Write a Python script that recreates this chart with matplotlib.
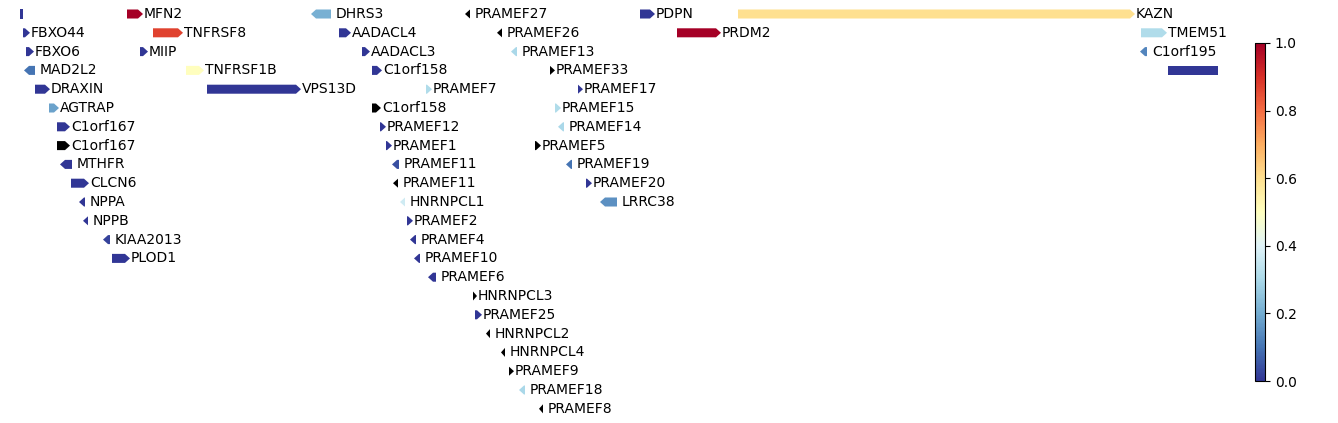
import numpy as np
import matplotlib
matplotlib.use("Agg")
import matplotlib.pyplot as plt
from matplotlib.patches import Polygon

# gene track data (positions in track units, row = stacking lane)
NAMES = ["", "MFN2", "DHRS3", "PRAMEF27", "PDPN", "KAZN",
         "FBXO44", "TNFRSF8", "AADACL4", "PRAMEF26", "PRDM2", "TMEM51",
         "FBXO6", "MIIP", "AADACL3", "PRAMEF13", "C1orf195",
         "MAD2L2", "TNFRSF1B", "C1orf158", "PRAMEF33", "",
         "DRAXIN", "VPS13D", "PRAMEF7", "PRAMEF17",
         "AGTRAP", "C1orf158", "PRAMEF15",
         "C1orf167", "PRAMEF12", "PRAMEF14",
         "C1orf167", "PRAMEF1", "PRAMEF5",
         "MTHFR", "PRAMEF11", "PRAMEF19",
         "CLCN6", "PRAMEF11", "PRAMEF20",
         "NPPA", "HNRNPCL1", "LRRC38",
         "NPPB", "PRAMEF2",
         "KIAA2013", "PRAMEF4",
         "PLOD1", "PRAMEF10",
         "PRAMEF6", "HNRNPCL3", "PRAMEF25", "HNRNPCL2", "HNRNPCL4",
         "PRAMEF9", "PRAMEF18", "PRAMEF8"]
STARTS = [20, 127, 311, 465, 640, 738,
          23, 153, 339, 497, 677, 1141,
          26, 140, 362, 511, 1140,
          24, 186, 372, 550, 1168,
          35, 207, 426, 578,
          49, 372, 555,
          57, 380, 558,
          57, 386, 535,
          60, 392, 566,
          71, 393, 586,
          79, 400, 600,
          83, 407,
          103, 410,
          112, 414,
          428, 473, 475, 486, 501,
          509, 519, 539]
ENDS = [23, 143, 331, 470, 655, 1135,
        30, 183, 351, 502, 721, 1167,
        34, 148, 370, 517, 1147,
        35, 204, 382, 555, 1218,
        50, 301, 432, 583,
        59, 381, 561,
        70, 386, 564,
        70, 392, 541,
        72, 399, 572,
        89, 398, 592,
        85, 405, 617,
        88, 413,
        110, 416,
        130, 420,
        436, 477, 482, 490, 505,
        514, 525, 543]
STRANDS = [0, 1, -1, -1, 1, 1,
           1, 1, 1, -1, 1, 1,
           1, 1, 1, -1, -1,
           -1, 1, 1, 1, 0,
           1, 1, 1, 1,
           1, 1, 1,
           1, 1, -1,
           1, 1, 1,
           -1, -1, -1,
           1, -1, 1,
           -1, -1, -1,
           -1, 1,
           -1, -1,
           1, -1,
           -1, 1, 1, -1, -1,
           1, -1, -1]
ROWS = [0, 0, 0, 0, 0, 0,
        1, 1, 1, 1, 1, 1,
        2, 2, 2, 2, 2,
        3, 3, 3, 3, 3,
        4, 4, 4, 4,
        5, 5, 5,
        6, 6, 6,
        7, 7, 7,
        8, 8, 8,
        9, 9, 9,
        10, 10, 10,
        11, 11,
        12, 12,
        13, 13,
        14, 15, 16, 17, 18,
        19, 20, 21]
nan = np.nan
SCORES = [0.0, 1.0, 0.21, nan, 0.0, 0.6,
          0.0, 0.87, 0.0, nan, 1.0, 0.31,
          0.0, 0.0, 0.0, 0.3, 0.13,
          0.1, 0.5, 0.0, nan, 0.0,
          0.0, 0.0, 0.31, 0.0,
          0.18, nan, 0.31,
          0.0, 0.0, 0.3,
          nan, 0.0, nan,
          0.0, 0.04, 0.1,
          0.0, nan, 0.0,
          0.0, 0.37, 0.15,
          0.0, 0.0,
          0.02, 0.0,
          0.0, 0.0,
          0.0, nan, 0.0, nan, nan,
          nan, 0.3, nan]

CMAP = matplotlib.colormaps["RdYlBu_r"].copy()
CMAP.set_bad("black")
norm = plt.Normalize(0, 1)

fig = plt.figure(figsize=(13.38, 4.23), dpi=100)
ax = fig.add_axes([0, 0, 1230 / 1338, 1])
ax.set_xlim(0, 1230)
ax.set_ylim((423 - 14) / 18.8, -14 / 18.8)
ax.axis("off")

half = 0.24
head = 5
for name, s, e, strand, row, val in zip(NAMES, STARTS, ENDS, STRANDS, ROWS, SCORES):
    color = CMAP(norm(val)) if not np.isnan(val) else "black"
    hl = min(head, e - s)
    y0, y1 = row - half, row + half
    if strand == 1:
        pts = [(s, y0), (e - hl, y0), (e, row), (e - hl, y1), (s, y1)]
    elif strand == -1:
        pts = [(s, row), (s + hl, y0), (e, y0), (e, y1), (s + hl, y1)]
    else:
        pts = [(s, y0), (e, y0), (e, y1), (s, y1)]
    ax.add_patch(Polygon(pts, closed=True, facecolor=color, edgecolor="none"))
    if name:
        pad = 1 if strand == 1 else 5
        ax.text(e + pad, row, name, fontsize=10, va="center", ha="left")

cax = fig.add_axes([1255 / 1338, (423 - 381) / 423, 10 / 1338, 338 / 423])
sm = matplotlib.cm.ScalarMappable(norm=norm, cmap=CMAP)
cb = fig.colorbar(sm, cax=cax)
cb.set_ticks([0.0, 0.2, 0.4, 0.6, 0.8, 1.0])
cb.ax.tick_params(labelsize=10)

fig.savefig("out.png", dpi=100)
